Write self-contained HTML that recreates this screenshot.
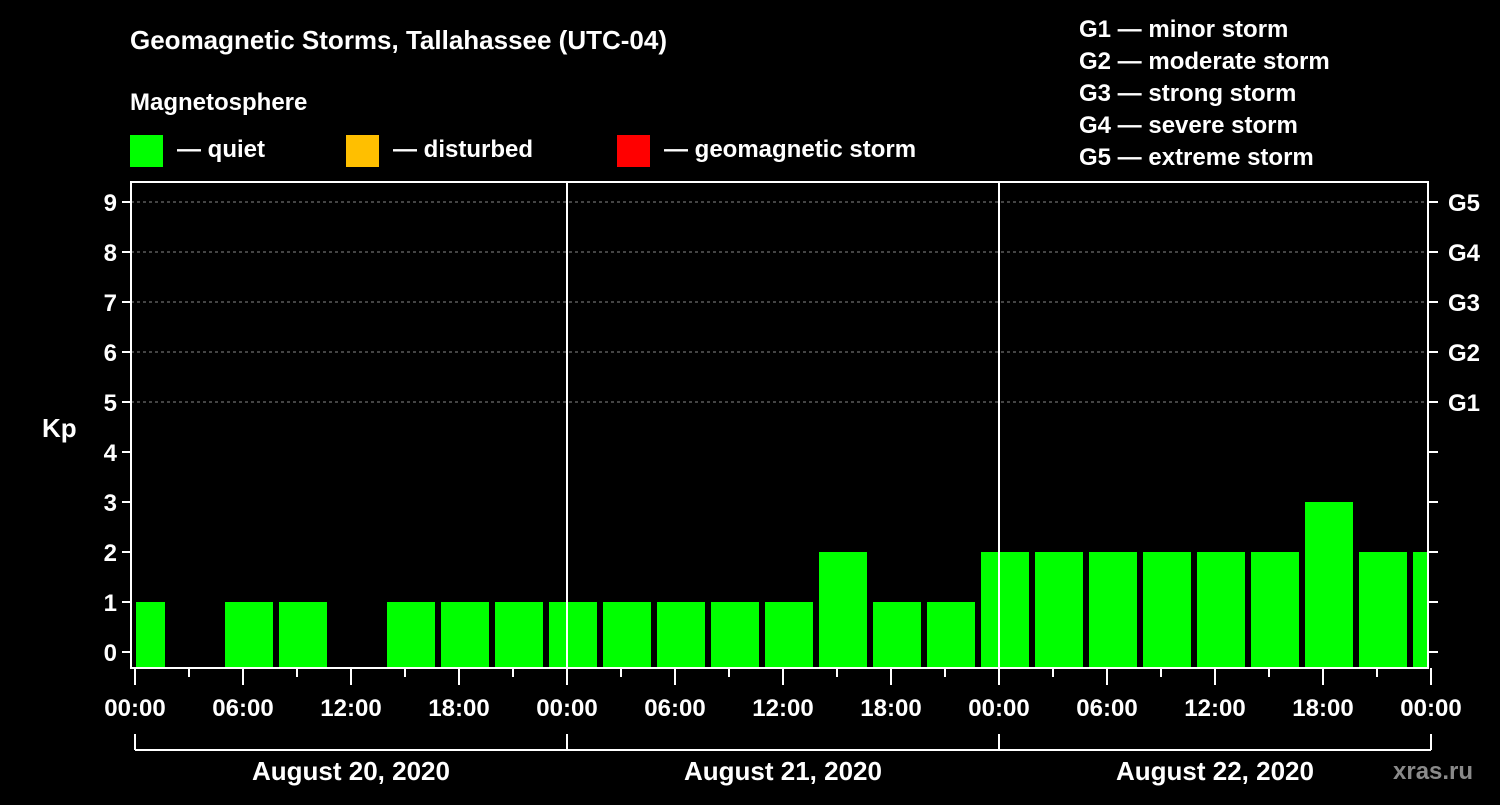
<!DOCTYPE html>
<html><head><meta charset="utf-8"><style>
body{margin:0;background:#000;width:1500px;height:800px;overflow:hidden}
svg text{font-family:"Liberation Sans",sans-serif;font-weight:bold;fill:#fff}
</style></head><body>
<svg id="chart" width="1500" height="800" xmlns="http://www.w3.org/2000/svg">
<rect width="1500" height="800" fill="#000"/>
<text x="130" y="49" font-size="26">Geomagnetic Storms, Tallahassee (UTC-04)</text>
<text x="130" y="110" font-size="24">Magnetosphere</text>
<g><rect x="130" y="135" width="33" height="32" fill="#00ff00"/><text x="177" y="157" font-size="24">— quiet</text></g>
<g><rect x="346" y="135" width="33" height="32" fill="#ffbf00"/><text x="393" y="157" font-size="24">— disturbed</text></g>
<g><rect x="617" y="135" width="33" height="32" fill="#ff0000"/><text x="664" y="157" font-size="24">— geomagnetic storm</text></g>
<g font-size="24">
<text x="1079" y="37">G1 — minor storm</text>
<text x="1079" y="69">G2 — moderate storm</text>
<text x="1079" y="101">G3 — strong storm</text>
<text x="1079" y="133">G4 — severe storm</text>
<text x="1079" y="165">G5 — extreme storm</text>
</g>
<text x="42" y="437" font-size="26">Kp</text>
<text x="1393" y="779" font-size="24" fill="#888" style="fill:#8a8a8a">xras.ru</text>
<g id="grid"></g><g id="bars"></g><g id="axes"></g>
</svg>
<script>
const kpValues=[1,0,1,1,0,1,1,1,1,1,1,1,1,2,1,1,2,2,2,2,2,2,3,2,2];
const yTicks=[0,1,2,3,4,5,6,7,8,9];
const gLabels=["G1","G2","G3","G4","G5"];
const timeLabels=["00:00","06:00","12:00","18:00","00:00","06:00","12:00","18:00","00:00","06:00","12:00","18:00","00:00"];
const dayLabels=["August 20, 2020","August 21, 2020","August 22, 2020"];
const NS="http://www.w3.org/2000/svg";
const X0=135,PXH=18,Y0=652,PXU=50,LEFT=131,RIGHT=1428,TOP=182,BOT=668;
const xH=h=>X0+h*PXH, yV=v=>Y0-v*PXU;
function mk(t,a,p){const e=document.createElementNS(NS,t);for(const k in a)e.setAttribute(k,a[k]);p.appendChild(e);return e;}
const grid=document.getElementById('grid'),bars=document.getElementById('bars'),axes=document.getElementById('axes');
yTicks.forEach(v=>{if(v>=5){const l=mk('line',{x1:LEFT,x2:RIGHT,y1:yV(v),y2:yV(v),stroke:'#888','stroke-dasharray':'3,3','stroke-width':1},grid);

}});
kpValues.forEach((v,k)=>{if(v<=0)return;let x1=xH(-1+3*k)+0,x2=xH(-1+3*k)+48;x1=Math.max(x1,LEFT+5);x2=Math.min(x2,RIGHT);
const c=v>=5?'#ff0000':(v>=4?'#ffbf00':'#00ff00');
const r=mk('rect',{x:x1,y:yV(v),width:x2-x1,height:BOT-yV(v),fill:c},bars);

});
[1,2].forEach(d=>{const l=mk('line',{x1:xH(24*d),x2:xH(24*d),y1:TOP,y2:BOT,stroke:'#fff','stroke-width':2},axes);

});
const fr=mk('rect',{x:LEFT,y:TOP,width:RIGHT-LEFT,height:BOT-TOP,fill:'none',stroke:'#fff','stroke-width':2},axes);


yTicks.forEach(v=>{const y=yV(v);mk('line',{x1:LEFT-9,x2:LEFT,y1:y,y2:y,stroke:'#fff','stroke-width':2},axes);
mk('line',{x1:RIGHT,x2:RIGHT+10,y1:y,y2:y,stroke:'#fff','stroke-width':2},axes);
const t=mk('text',{x:LEFT-14,y:y+9,'font-size':24,'text-anchor':'end'},axes);t.textContent=v;

});
gLabels.forEach((g,i)=>{const t=mk('text',{x:1448,y:yV(5+i)+9,'font-size':24},axes);t.textContent=g;

});
for(let h=0;h<=72;h+=3){const major=h%6===0;mk('line',{x1:xH(h),x2:xH(h),y1:BOT,y2:BOT+(major?17:9),stroke:'#fff','stroke-width':2},axes);}
timeLabels.forEach((s,i)=>{const t=mk('text',{x:xH(6*i),y:716,'font-size':24,'text-anchor':'middle'},axes);t.textContent=s;

});
mk('line',{x1:xH(0),x2:xH(72),y1:750,y2:750,stroke:'#fff','stroke-width':2},axes);
for(let d=0;d<=3;d++)mk('line',{x1:xH(24*d),x2:xH(24*d),y1:734,y2:750,stroke:'#fff','stroke-width':2},axes);
dayLabels.forEach((s,i)=>{const t=mk('text',{x:xH(24*i+12),y:780,'font-size':26,'text-anchor':'middle'},axes);t.textContent=s;

});
</script>
</body></html>
